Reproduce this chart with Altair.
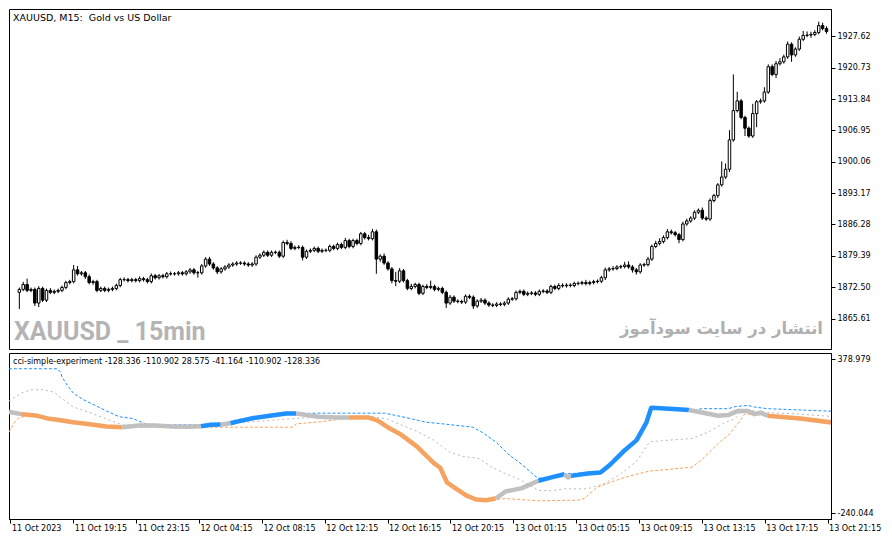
import altair as alt
import pandas as pd

# ---------------- data ----------------
OPEN_FIRST = 1871.36
CLOSE = [
    1872.01, 1873.08, 1871.79, 1872.01, 1869.00, 1872.22, 1869.64, 1871.79, 1871.36, 1871.58,
    1871.79, 1872.44, 1873.51, 1873.72, 1876.30, 1875.44, 1875.66, 1874.80, 1873.51, 1873.72,
    1871.79, 1872.22, 1871.79, 1872.01, 1872.22, 1872.87, 1874.15, 1874.15, 1873.94, 1874.15,
    1873.94, 1874.37, 1874.15, 1873.72, 1875.01, 1874.58, 1875.01, 1874.80, 1875.44, 1875.44,
    1875.44, 1875.66, 1875.44, 1875.87, 1876.30, 1875.66, 1875.66, 1877.16, 1878.66, 1877.59,
    1876.73, 1875.87, 1876.52, 1876.94, 1877.37, 1877.59, 1877.80, 1877.80, 1877.59, 1877.37,
    1877.59, 1879.09, 1879.52, 1880.16, 1879.52, 1880.16, 1880.16, 1879.31, 1882.31, 1882.10,
    1881.02, 1881.24, 1881.24, 1879.09, 1880.38, 1880.59, 1881.02, 1880.38, 1880.59, 1880.59,
    1881.45, 1881.02, 1881.88, 1881.24, 1882.74, 1881.45, 1882.74, 1882.10, 1884.24, 1883.39,
    1883.17, 1884.67, 1878.66, 1879.31, 1877.80, 1876.52, 1873.94, 1873.80, 1876.09, 1873.94,
    1872.22, 1872.65, 1873.08, 1871.15, 1872.65, 1872.44, 1872.65, 1872.01, 1872.22, 1871.36,
    1869.00, 1870.29, 1869.43, 1869.35, 1869.22, 1870.50, 1870.29, 1868.36, 1869.43, 1869.64,
    1869.00, 1868.57, 1868.50, 1868.79, 1868.72, 1869.00, 1869.86, 1869.95, 1871.36, 1871.58,
    1870.93, 1871.15, 1871.22, 1870.93, 1871.58, 1871.65, 1871.36, 1872.65, 1872.22, 1872.87,
    1872.80, 1872.95, 1872.87, 1873.29, 1873.35, 1873.51, 1873.29, 1873.51, 1873.72, 1873.80,
    1874.58, 1876.30, 1876.52, 1876.60, 1876.94, 1877.02, 1877.37, 1876.94, 1876.30, 1875.87,
    1877.37, 1877.45, 1878.66, 1881.45, 1882.10, 1882.53, 1883.39, 1884.67, 1884.46, 1884.03,
    1882.96, 1886.39, 1887.04, 1887.68, 1888.97, 1889.40, 1887.68, 1887.46, 1891.54, 1892.62,
    1894.98, 1896.70, 1898.41, 1904.86, 1911.30, 1913.44, 1909.79, 1907.43, 1905.71, 1910.65,
    1913.23, 1913.44, 1915.38, 1920.96, 1919.24, 1921.60, 1922.03, 1923.10, 1925.90, 1923.53,
    1924.82, 1926.97, 1927.83, 1927.90, 1928.04, 1928.47, 1929.98, 1929.33, 1928.69,
]
UP_WICK = [
    0.4, 0.6, 1.29, 0.4, 0.4, 0.5, 0.4, 0.4, 0.5, 0.4,
    0.4, 0.4, 0.4, 0.4, 1.07, 0.86, 0.4, 0.4, 0.5, 0.4,
    0.4, 0.4, 0.4, 0.4, 0.4, 0.4, 0.4, 0.5, 0.4, 0.4,
    0.4, 0.5, 0.4, 0.4, 0.5, 0.4, 0.4, 0.4, 0.4, 0.5,
    0.4, 0.4, 0.4, 0.4, 0.4, 0.4, 0.4, 0.4, 0.43, 0.5,
    0.4, 0.4, 0.4, 0.4, 0.4, 0.4, 0.4, 0.4, 0.4, 0.4,
    0.4, 0.4, 0.4, 0.4, 0.4, 0.4, 0.4, 0.4, 0.43, 0.6,
    0.5, 0.4, 0.5, 0.4, 0.4, 0.4, 0.4, 0.4, 0.4, 0.4,
    0.4, 0.4, 0.4, 0.4, 0.6, 0.4, 0.4, 0.4, 0.4, 0.4,
    0.6, 0.64, 0.5, 0.4, 0.6, 0.4, 0.4, 1.93, 0.6, 0.4,
    0.4, 0.6, 0.4, 0.4, 0.4, 0.5, 1.29, 0.4, 0.4, 0.4,
    0.4, 0.5, 0.4, 0.4, 0.4, 0.4, 0.4, 0.4, 0.4, 0.5,
    0.4, 0.4, 0.4, 0.4, 0.4, 0.4, 0.4, 0.4, 0.4, 0.4,
    0.4, 0.4, 0.4, 0.4, 0.4, 0.4, 0.4, 0.4, 0.4, 0.5,
    0.5, 0.4, 0.4, 0.4, 0.4, 0.4, 0.6, 0.4, 0.4, 0.4,
    0.4, 0.5, 0.4, 0.5, 0.4, 0.4, 0.7, 0.8, 0.4, 0.4,
    0.4, 0.4, 0.5, 0.4, 0.6, 0.7, 0.5, 0.6, 0.5, 0.4,
    0.4, 0.5, 0.5, 0.4, 0.4, 0.4, 0.6, 0.4, 0.5, 0.4,
    0.4, 3.44, 1.29, 2.15, 7.94, 2.0, 0.4, 0.4, 0.4, 2.15,
    0.4, 0.5, 1.07, 0.5, 0.5, 0.6, 0.8, 0.5, 0.6, 0.4,
    0.4, 0.6, 1.0, 0.8, 0.6, 0.5, 0.86, 0.64, 0.5,
]
DN_WICK = [
    3.65, 0.4, 0.4, 0.4, 0.64, 0.86, 0.4, 0.4, 0.4, 0.4,
    0.4, 0.4, 0.4, 0.4, 0.4, 0.4, 0.4, 0.5, 0.4, 0.5,
    0.4, 0.4, 0.4, 0.4, 0.4, 0.4, 0.4, 0.4, 0.4, 0.4,
    0.4, 0.4, 0.4, 0.4, 0.4, 0.4, 0.4, 0.4, 0.4, 0.4,
    0.4, 0.4, 0.4, 0.4, 0.4, 0.4, 1.07, 0.4, 0.4, 0.4,
    0.4, 0.5, 0.4, 0.4, 0.4, 0.4, 0.4, 0.4, 0.4, 0.4,
    0.4, 0.4, 0.4, 0.4, 0.4, 0.4, 0.4, 0.4, 0.4, 0.4,
    0.4, 0.4, 0.4, 0.7, 0.4, 0.4, 0.4, 0.4, 0.4, 0.4,
    0.4, 0.4, 0.4, 0.4, 0.4, 0.4, 0.4, 0.4, 0.4, 0.4,
    0.4, 0.4, 3.22, 0.6, 0.4, 0.4, 0.6, 1.07, 0.4, 0.4,
    0.4, 0.4, 0.4, 0.43, 0.4, 0.4, 0.4, 0.4, 0.4, 0.4,
    1.07, 0.4, 0.4, 0.4, 0.4, 0.4, 0.4, 0.64, 0.4, 0.4,
    0.4, 0.4, 0.4, 0.4, 0.4, 0.4, 0.4, 0.4, 0.4, 0.4,
    0.4, 0.4, 0.4, 0.4, 0.4, 0.4, 0.4, 0.4, 0.4, 0.4,
    0.4, 0.4, 0.4, 0.4, 0.4, 0.4, 0.4, 0.4, 0.4, 0.4,
    0.4, 0.5, 0.4, 0.4, 0.4, 0.4, 0.4, 0.4, 0.6, 0.6,
    0.4, 0.4, 0.4, 0.4, 0.4, 0.4, 0.4, 0.4, 0.4, 0.4,
    0.8, 0.4, 0.4, 0.4, 0.4, 0.4, 0.4, 0.4, 0.4, 0.4,
    0.5, 0.4, 0.4, 0.6, 0.4, 0.4, 0.4, 1.72, 0.4, 0.4,
    3.0, 0.4, 0.4, 0.4, 0.4, 0.8, 0.4, 0.4, 0.4, 1.5,
    0.4, 0.4, 0.4, 0.4, 0.6, 0.4, 0.4, 0.4, 0.5,
]

PRICE_TICKS = [1927.62, 1920.73, 1913.84, 1906.95, 1900.06, 1893.17, 1886.28, 1879.39, 1872.50, 1865.61]
TIME_TICK_BARS = [-1, 15, 31, 47, 63, 79, 95, 111, 127, 143, 159, 175, 191, 207]
TIME_LABELS = ["11 Oct 2023", "11 Oct 19:15", "11 Oct 23:15", "12 Oct 04:15", "12 Oct 08:15",
               "12 Oct 12:15", "12 Oct 16:15", "12 Oct 20:15", "13 Oct 01:15", "13 Oct 05:15",
               "13 Oct 09:15", "13 Oct 13:15", "13 Oct 17:15", "13 Oct 21:15"]
IND_TICKS = [378.979, -240.044]

# indicator: main line (bar index, value, state of the segment starting there)
MAIN_X = [-1.4, 1.7, 3.4, 5.9, 8.4, 10.9, 15.0, 19.2, 23.4, 27.5, 31.7, 35.9, 40.0, 44.2, 47.5,
          50.0, 52.5, 55.0, 56.7, 60.9, 65.0, 69.2, 71.7, 77.5, 81.7, 85.1, 90.0, 92.5, 95.0,
          98.4, 102.5, 106.7, 108.4, 110.1, 112.5, 115.0, 117.5, 120.0, 122.5, 125.0, 129.2,
          133.4, 136.7, 140.0, 140.9, 141.7, 145.9, 149.2, 151.7, 155.0, 158.4, 160.9, 162.1,
          166.7, 171.7, 175.0, 179.2, 181.7, 184.2, 186.7, 188.4, 190.0, 191.7, 200.0, 207.9]
MAIN_V = [167.0, 157.7, 155.0, 151.0, 140.5, 135.4, 124.8, 117.0, 108.0, 105.3, 112.0, 112.0, 108.0,
          106.8, 109.2, 114.7, 115.8, 121.0, 127.6, 142.0, 151.0, 160.0, 160.0, 147.1, 144.4, 144.4,
          144.4, 131.5, 105.3, 75.6, 27.1, -37.8, -57.4, -116.0, -142.2, -168.4, -185.2, -188.0,
          -181.3, -152.8, -139.5, -109.8, -96.5, -83.6, -96.5, -90.2, -80.8, -76.9, -44.5, 7.5,
          53.3, 124.8, 183.5, 179.6, 174.5, 164.0, 151.0, 153.8, 170.6, 170.6, 157.7, 164.0, 151.0,
          140.5, 124.5]
MAIN_STATE = (["flat"] + ["down"] * 8 + ["flat"] * 5 + ["up"] * 2 + ["flat"] + ["up"] * 5 +
              ["flat"] * 3 + ["down"] * 13 + ["flat"] * 3 + ["up"] * 2 + ["flat"] * 2 +
              ["up"] * 9 + ["flat"] * 8 + ["down"] * 3)

UP_X = [-1.4, 10.9, 11.7, 12.1, 13.4, 15.0, 17.5, 20.9, 23.4, 26.7, 30.0, 33.4, 35.9, 47.5, 52.5,
        56.7, 61.7, 66.7, 70.9, 77.5, 94.2, 98.4, 105.0, 108.4, 116.7, 119.2, 122.5, 125.9, 129.2,
        132.5, 133.4, 136.7, 140.0, 145.9, 149.2, 151.7, 155.0, 158.4, 160.9, 162.1, 166.7, 171.7,
        172.5, 175.0, 181.7, 183.4, 186.7, 188.4, 191.7, 207.9]
UP_V = [339.9, 339.9, 327.0, 307.4, 275.0, 242.1, 216.3, 190.1, 170.6, 147.1, 140.5, 118.6, 114.7,
        114.7, 118.6, 135.4, 148.3, 157.7, 160.0, 161.6, 161.6, 148.3, 124.8, 119.8, 105.3, 83.4,
        46.6, -5.4, -44.5, -90.2, -100.0, -94.0, -82.0, -78.0, -74.0, -42.0, 10.0, 56.0, 127.0,
        186.0, 182.0, 176.0, 173.3, 179.6, 179.6, 187.4, 192.9, 186.2, 179.6, 169.4]

MID_X = [-1.4, 1.7, 4.2, 7.5, 10.0, 12.5, 15.0, 19.2, 23.4, 27.5, 31.7, 46.7, 52.5, 56.7, 60.9,
         67.5, 71.7, 77.5, 85.9, 90.0, 95.0, 98.4, 102.5, 106.7, 108.4, 110.9, 114.2, 118.4, 121.7,
         125.0, 129.2, 133.4, 136.7, 140.0, 145.9, 150.0, 154.2, 158.4, 161.7, 166.7, 172.5, 176.7,
         180.9, 183.4, 185.0, 186.7, 191.7, 200.0, 207.9]
MID_V = [210.0, 242.1, 255.4, 255.4, 246.1, 216.3, 186.2, 164.0, 138.1, 114.7, 113.1, 113.1, 114.7,
         122.5, 127.6, 135.4, 140.5, 144.4, 147.1, 151.0, 138.1, 114.7, 88.5, 53.3, 33.7, 5.2, -12.0,
         -21.0, -57.4, -80.8, -109.8, -148.9, -150.0, -142.2, -142.2, -122.7, -83.6, -31.6, 46.6,
         53.3, 60.0, 85.7, 124.8, 138.1, 170.6, 174.5, 164.0, 157.7, 148.3]

LO_X = [-1.4, 0.05, 0.9, 3.4, 5.9, 8.4, 10.9, 15.0, 19.2, 23.4, 27.5, 28.4, 48.4, 70.9, 71.7, 78.4,
        81.7, 85.1, 90.0, 92.5, 95.0, 98.4, 102.5, 106.7, 108.4, 110.1, 112.5, 115.0, 117.5, 120.0,
        125.0, 133.4, 143.4, 145.0, 148.4, 151.7, 156.7, 161.7, 166.7, 172.5, 175.0, 179.2, 181.7,
        183.8, 185.9, 188.4, 191.7, 200.0, 207.9]
LO_V = [85.0, 124.8, 140.5, 153.0, 149.0, 139.0, 134.0, 123.0, 115.0, 106.0, 104.0, 105.3, 105.3,
        105.3, 118.6, 127.6, 135.4, 144.4, 143.0, 130.0, 104.0, 74.0, 26.0, -39.0, -59.0, -117.0,
        -143.0, -169.0, -186.0, -189.0, -181.3, -190.3, -188.0, -181.3, -135.6, -116.0, -90.2,
        -70.7, -64.0, -55.0, -24.9, 40.4, 72.8, 112.0, 157.7, 157.0, 150.0, 139.0, 123.0]

TITLE = "XAUUSD, M15:\u00a0 Gold vs US Dollar"
IND_LABEL = "cci-simple-experiment -128.336 -110.902 28.575 -41.164 -110.902 -128.336"
WATERMARK_1 = "XAUUSD _ 15min"
WATERMARK_2 = "انتشار در سایت سودآموز"

# ---------------- tables ----------------
n = len(CLOSE)
opens = [OPEN_FIRST] + CLOSE[:-1]
candles = pd.DataFrame({"i": list(range(n)), "open": opens, "close": CLOSE})
candles["high"] = candles[["open", "close"]].max(axis=1) + pd.Series(UP_WICK)
candles["low"] = candles[["open", "close"]].min(axis=1) - pd.Series(DN_WICK)

rows = []
seg = 0
for k in range(len(MAIN_X) - 1):
    if k > 0 and MAIN_STATE[k] != MAIN_STATE[k - 1]:
        seg += 1
    rows.append({"x": MAIN_X[k], "v": MAIN_V[k], "seg": seg, "state": MAIN_STATE[k], "o": k})
    rows.append({"x": MAIN_X[k + 1], "v": MAIN_V[k + 1], "seg": seg, "state": MAIN_STATE[k], "o": k + 0.5})
main_df = pd.DataFrame(rows).drop_duplicates(subset=["x", "seg"])
up_df = pd.DataFrame({"x": UP_X, "v": UP_V})
mid_df = pd.DataFrame({"x": MID_X, "v": MID_V})
lo_df = pd.DataFrame({"x": LO_X, "v": LO_V})

# ---------------- layout ----------------
W = 822
H1 = 340
H2 = 166
FONT = "DejaVu Sans"

xscale = alt.Scale(domain=[-1.375, 207.875], nice=False, zero=False)
top_y = alt.Scale(domain=[1858.91, 1933.63], nice=False, zero=False)
bot_y = alt.Scale(domain=[-263.4, 403.2], nice=False, zero=False)

price_axis = alt.Axis(orient="right", values=PRICE_TICKS, format=".2f", title=None, grid=False,
                      tickSize=4, tickColor="black", domainColor="black", labelColor="black",
                      labelFont=FONT, labelFontSize=8, labelPadding=2, labelFlush=False,
                      labelOverlap=False)
ind_axis = alt.Axis(orient="right", values=IND_TICKS, title=None, grid=False,
                    labelExpr="replace(format(datum.value, '.3f'), '\u2212', '-')",
                    tickSize=4, tickColor="black", domainColor="black", labelColor="black",
                    labelFont=FONT, labelFontSize=8, labelPadding=2, labelFlush=False,
                    labelOverlap=False)
lab_arr = "[" + ",".join("'" + s + "'" for s in TIME_LABELS) + "]"
time_axis = alt.Axis(orient="bottom", values=TIME_TICK_BARS, title=None, grid=False,
                     labelExpr=lab_arr + "[round((datum.value + 1) / 16)]",
                     labelAlign="left", labelOffset=1, labelPadding=1, tickSize=4,
                     tickColor="black", domainColor="black", labelColor="black",
                     labelFont=FONT, labelFontSize=8, labelFlush=False, labelOverlap=False)

# ---- top: candles ----
xc = alt.X("i:Q", scale=xscale, axis=None)
wicks = alt.Chart(candles).mark_rule(color="black", strokeWidth=1, clip=True).encode(
    x=xc, y=alt.Y("low:Q", scale=top_y, axis=price_axis), y2="high:Q")
bodies = alt.Chart(candles).mark_bar(size=2.5, stroke="black", strokeWidth=1, clip=True).encode(
    x=xc, y=alt.Y("open:Q", scale=top_y, axis=price_axis), y2="close:Q",
    fill=alt.condition("datum.close >= datum.open", alt.value("white"), alt.value("black")))

title_txt = alt.Chart(pd.DataFrame({"t": [TITLE]})).mark_text(
    align="left", baseline="middle", font=FONT, fontSize=9.5, color="black").encode(
    x=alt.value(4), y=alt.value(9), text="t:N")
wm1 = alt.Chart(pd.DataFrame({"t": [WATERMARK_1]})).mark_text(
    align="left", baseline="alphabetic", font="Roboto",
    fontWeight="bold", fontSize=25, color="#B4B4B4").encode(
    x=alt.value(5), y=alt.value(331), text="t:N")
wm2 = alt.Chart(pd.DataFrame({"t": [WATERMARK_2]})).mark_text(
    align="right", baseline="alphabetic", font=FONT, fontWeight="bold", fontSize=16.5,
    color="#B0B0B0").encode(x=alt.value(814), y=alt.value(325), text="t:N")

top = alt.layer(wicks, bodies, wm1, wm2, title_txt).properties(width=W, height=H1)

# ---- bottom: indicator ----
xi = alt.X("x:Q", scale=xscale, axis=time_axis)
yi = alt.Y("v:Q", scale=bot_y, axis=ind_axis)
up_line = alt.Chart(up_df).mark_line(color="#1E90FF", strokeWidth=1, strokeDash=[3, 2], clip=True).encode(x=xi, y=yi)
mid_line = alt.Chart(mid_df).mark_line(color="#B8B8B8", strokeWidth=1, strokeDash=[2, 3], clip=True).encode(x=xi, y=yi)
lo_line = alt.Chart(lo_df).mark_line(color="#F4A460", strokeWidth=1, strokeDash=[3, 2], clip=True).encode(x=xi, y=yi)
main_line = alt.Chart(main_df).mark_line(strokeWidth=4.5, strokeCap="butt", strokeJoin="round", clip=True).encode(
    x=xi, y=yi, detail="seg:N", order="o:Q",
    color=alt.Color("state:N", scale=alt.Scale(domain=["up", "down", "flat"],
                                               range=["#1E90FF", "#F4A460", "#C0C0C0"]), legend=None))
ind_txt = alt.Chart(pd.DataFrame({"t": [IND_LABEL]})).mark_text(
    align="left", baseline="middle", font=FONT, fontSize=8, color="black").encode(
    x=alt.value(4), y=alt.value(9), text="t:N")

bottom = alt.layer(up_line, mid_line, lo_line, main_line, ind_txt).properties(width=W, height=H2)

chart = alt.vconcat(top, bottom, spacing=2).properties(
    padding=0, background="white"
).configure_view(stroke="black", strokeWidth=1)

chart.save("out.html", embed_options={"renderer": "svg", "actions": False})
